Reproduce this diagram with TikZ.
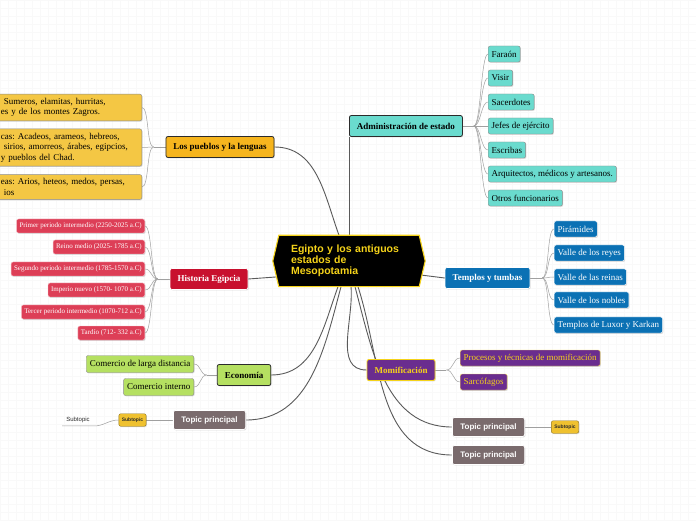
\documentclass[tikz,border=0pt]{standalone}
\usepackage{fontspec}
\setmainfont{Liberation Serif}
\setsansfont{Liberation Sans}
\usetikzlibrary{calc,backgrounds,shadows}
\frenchspacing
\definecolor{ink}{HTML}{2B2B2B}
\definecolor{edge}{HTML}{8C8C8C}
\definecolor{aqua}{HTML}{6ADBCE}
\definecolor{amber}{HTML}{F6B51E}
\definecolor{honey}{HTML}{F4C744}
\definecolor{crimson}{HTML}{C8102E}
\definecolor{rosered}{HTML}{DD3F57}
\definecolor{leafgreen}{HTML}{B5E061}
\definecolor{ocean}{HTML}{0B71B4}
\definecolor{plum}{HTML}{6A2D8F}
\definecolor{gold}{HTML}{F5D31A}
\definecolor{topicgray}{HTML}{7A6B6D}
\definecolor{subgold}{HTML}{EFC12F}
\definecolor{branchgray}{HTML}{5A5A5A}
\definecolor{twiggray}{HTML}{A0A0A0}
\tikzset{
  box/.style={rounded corners=2pt, align=center, inner ysep=0pt,
              drop shadow={shadow xshift=0.8pt, shadow yshift=-0.9pt, opacity=0.28}},
  headbox/.style={box, font=\fontsize{9}{11}\selectfont\bfseries, inner xsep=7.5pt, minimum height=21pt},
  leafbox/.style={box, font=\fontsize{9}{10}\selectfont, inner xsep=3.5pt, minimum height=16pt},
  aquahead/.style={headbox, fill=aqua, draw=ink, line width=0.8pt},
  aqualeaf/.style={leafbox, fill=aqua, draw=edge, line width=0.4pt, anchor=west},
  amberhead/.style={headbox, fill=amber, draw=ink, line width=0.8pt},
  honeyleaf/.style={leafbox, fill=honey, draw=edge, line width=0.4pt, anchor=east, align=left,
              text width=130pt, inner xsep=11pt, inner ysep=4pt, font=\fontsize{9}{10.5}\selectfont},
  redhead/.style={headbox, fill=crimson, draw=white, line width=0.6pt, text=white},
  redleaf/.style={leafbox, fill=rosered, draw=white!70!rosered, line width=0.4pt, text=white,
              font=\fontsize{7}{8}\selectfont, inner xsep=3pt, minimum height=14pt, anchor=east},
  greenhead/.style={headbox, fill=leafgreen, draw=ink, line width=0.8pt},
  greenleaf/.style={leafbox, fill=leafgreen, draw=edge, line width=0.4pt, minimum height=17pt, anchor=east},
  bluehead/.style={headbox, fill=ocean, draw=white, line width=0.6pt, text=white},
  blueleaf/.style={leafbox, fill=ocean, draw=white, line width=0.4pt, text=white, anchor=west},
  plumhead/.style={headbox, fill=plum, draw=gold, line width=0.9pt, text=gold},
  plumleaf/.style={leafbox, fill=plum, draw=gold!70!white, line width=0.4pt, text=gold, anchor=west},
  topicbox/.style={box, fill=topicgray, draw=white, line width=0.8pt, text=white,
              font=\sffamily\fontsize{8}{9}\selectfont\bfseries, inner xsep=8pt, minimum height=19pt},
  subbox/.style={box, fill=subgold, draw=subgold!60!black, line width=0.4pt, text=ink,
              font=\sffamily\fontsize{5}{6}\selectfont\bfseries, inner xsep=3pt, minimum height=12.5pt},
  subtext/.style={font=\sffamily\fontsize{6}{7}\selectfont, text=ink, inner xsep=4pt, inner ysep=3pt},
  rootbox/.style={font=\sffamily\fontsize{10.5}{11.2}\selectfont\bfseries, text=gold, align=left,
              text width=116pt, inner xsep=18pt, minimum height=51pt},
  hexedge/.style={fill=black, draw=gold, line width=1.1pt},
  branch/.style={draw=branchgray, line width=0.9pt},
  twig/.style={draw=twiggray, line width=0.5pt},
  twigR/.style={twig, to path={.. controls +(7,0) and +(-7,0) .. (\tikztotarget)}},
  twigL/.style={twig, to path={.. controls +(-7,0) and +(7,0) .. (\tikztotarget)}},
  gridline/.style={draw=black!2.5, line width=0.3pt, step=8pt}
}
\begin{document}
\begin{tikzpicture}[x=1pt,y=1pt]
  \useasboundingbox (0,0) rectangle (696,520);

  \node[rootbox] (root) at (349,259) {Egipto y los antiguos\\estados de\\Mesopotamia};

  % administracion
  \node[aquahead, anchor=west] (admin) at (349,394) {Administración de estado};
  \node[aqualeaf] (faraon) at (488,466) {Faraón};
  \node[aqualeaf] (visir) at (488,442) {Visir};
  \node[aqualeaf] (sacerdotes) at (488,418) {Sacerdotes};
  \node[aqualeaf] (jefes) at (488,394) {Jefes de ejército};
  \node[aqualeaf] (escribas) at (488,370) {Escribas};
  \node[aqualeaf] (arquitectos) at (488,346) {Arquitectos, médicos y artesanos.};
  \node[aqualeaf] (otros) at (488,322) {Otros funcionarios};

  % pueblos y lenguas
  \node[amberhead] (lenguas) at (220,373) {Los pueblos y la lenguas};
  \node[honeyleaf] (pueblosA) at (142,412.5) {\hspace*{3pt}Sumeros, elamitas, hurritas,\\es y de los montes Zagros.};
  \node[honeyleaf] (pueblosB) at (142,372.5) {cas: Acadeos, arameos, hebreos,\\\hspace*{3pt}sirios, amorreos, árabes, egipcios,\\y pueblos del Chad.};
  \node[honeyleaf] (pueblosC) at (142,333) {eas: Arios, heteos, medos, persas,\\\hspace*{3pt}ios};

  % historia
  \node[redhead] (historia) at (209,241) {Historia Egipcia};
  \node[redleaf] (primer) at (145,294) {Primer periodo intermedio (2250-2025 a.C)};
  \node[redleaf] (reino) at (145,273) {Reino medio (2025- 1785 a.C)};
  \node[redleaf] (segundo) at (145,251) {Segundo periodo intermedio (1785-1570 a.C)};
  \node[redleaf] (imperio) at (145,230) {Imperio nuevo (1570- 1070 a.C)};
  \node[redleaf] (tercer) at (145,208) {Tercer periodo intermedio (1070-712 a.C)};
  \node[redleaf] (tardio) at (145,187) {Tardío (712- 332 a.C)};

  % economia
  \node[greenhead] (economia) at (244,145) {Economía};
  \node[greenleaf] (larga) at (194,156) {Comercio de larga distancia};
  \node[greenleaf] (interno) at (194,133) {Comercio interno};

  % topic izquierda
  \node[topicbox] (topicL) at (209.5,100) {Topic principal};
  \node[subbox] (subL) at (132.5,100) {Subtopic};
  \node[subtext] (subC) at (78,100) {Subtopic};

  % templos
  \node[bluehead] (templos) at (487.5,242) {Templos y tumbas};
  \node[blueleaf] (piramides) at (554,291) {Pirámides};
  \node[blueleaf] (reyes) at (554,267) {Valle de los reyes};
  \node[blueleaf] (reinas) at (554,243) {Valle de las reinas};
  \node[blueleaf] (nobles) at (554,220) {Valle de los nobles};
  \node[blueleaf] (luxor) at (554,195) {Templos de Luxor y Karkan};

  % momificacion
  \node[plumhead] (momif) at (401,150) {Momificación};
  \node[plumleaf] (procesos) at (460,162) {Procesos y técnicas de momificación};
  \node[plumleaf] (sarcofagos) at (460,138) {Sarcófagos};

  % topics derecha
  \node[topicbox] (topicA) at (488.5,93) {Topic principal};
  \node[subbox] (subR) at (565,93) {Subtopic};
  \node[topicbox] (topicB) at (488.5,65) {Topic principal};

  \begin{scope}[on background layer]
    \fill[white] (0,0) rectangle (696,520);
    \draw[gridline] (0,0) grid (696,520);
    \coordinate (rootL) at ($(root.west)!0.62!([xshift=6pt]root.south west)$);
    \coordinate (rootR) at ($(root.east)!0.55!([xshift=-6pt]root.south east)$);

    % main branches
    \draw[branch] (root.north) -- (admin.south west);
    \draw[branch] (lenguas.east) to[out=0,in=110] ([xshift=-10pt]root.north);
    \draw[branch] (historia.east) -- (rootL);
    \draw[branch] (economia.east) to[out=0,in=-110] ([xshift=-11pt]root.south);
    \draw[branch] (topicL.east) to[out=0,in=-105] ([xshift=-8pt]root.south);
    \draw[branch] (templos.west) -- (rootR);
    \draw[branch] (momif.west) to[out=180,in=-85] ([xshift=2pt]root.south);
    \draw[branch] (topicA.west) to[out=180,in=-75] ([xshift=6pt]root.south);
    \draw[branch] (topicB.west) to[out=180,in=-72] ([xshift=9pt]root.south);

    % sub branches
    \draw[twig] (admin.east) -- ++(11,0) coordinate (adminJ);
    \foreach \n in {faraon,visir,sacerdotes,jefes,escribas,arquitectos,otros}
      \draw[twigR] (adminJ) to (\n.west);
    \draw[twig] (lenguas.west) -- ++(-12,0) coordinate (lenguasJ);
    \foreach \n in {pueblosA,pueblosB,pueblosC}
      \draw[twigL] (lenguasJ) to (\n.east);
    \draw[twig] (historia.west) -- ++(-12,0) coordinate (historiaJ);
    \foreach \n in {primer,reino,segundo,imperio,tercer,tardio}
      \draw[twigL] (historiaJ) to (\n.east);
    \draw[twig] (economia.west) -- ++(-10,0) coordinate (economiaJ);
    \foreach \n in {larga,interno}
      \draw[twigL] (economiaJ) to (\n.east);
    \draw[twig] (templos.east) -- ++(12,0) coordinate (templosJ);
    \foreach \n in {piramides,reyes,reinas,nobles,luxor}
      \draw[twigR] (templosJ) to (\n.west);
    \draw[twig] (momif.east) -- ++(11,0) coordinate (momifJ);
    \foreach \n in {procesos,sarcofagos}
      \draw[twigR] (momifJ) to (\n.west);
    \draw[twig] (topicL.west) -- (subL.east);
    \draw[twig] (subL.west) to[out=180,in=0] (subC.south east) -- (subC.south west);
    \draw[twig] (topicA.east) -- (subR.west);

    % centro
    \draw[hexedge] (root.west) -- ([xshift=6pt]root.north west) -- ([xshift=-6pt]root.north east)
      -- (root.east) -- ([xshift=-6pt]root.south east) -- ([xshift=6pt]root.south west) -- cycle;
  \end{scope}
\end{tikzpicture}
\end{document}
